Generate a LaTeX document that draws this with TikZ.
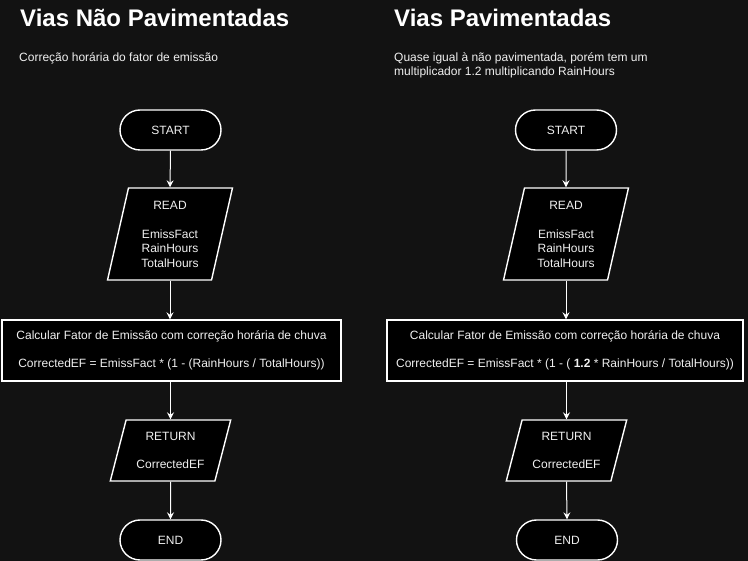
\documentclass[tikz,border=0pt]{standalone}
\usepackage{fontspec}
\setmainfont{Liberation Sans}
\usetikzlibrary{shapes.geometric,arrows.meta}
\definecolor{bg}{HTML}{121212}
\definecolor{txt}{HTML}{F0F0F0}
\begin{document}
\begin{tikzpicture}[x=1pt,y=-1pt,
  base/.style={draw=white, line width=1.4pt, fill=black, text=txt, font=\fontsize{12}{14.5}\selectfont, align=center, inner sep=0pt},
  term/.style={base, rectangle, rounded corners=20pt, minimum width=101pt, minimum height=40pt},
  io/.style={base, trapezium, trapezium stretches=true, trapezium left angle=#1, trapezium right angle=180-#1},
  proc/.style={base, rectangle, minimum height=61pt},
  conn/.style={draw=white, line width=1pt, -{Stealth[length=7pt,width=7pt,inset=2.5pt]}},
  title/.style={text=white, font=\fontsize{24}{28}\selectfont\bfseries, anchor=base west, inner sep=0pt},
  sub/.style={text=txt, font=\fontsize{12}{14}\selectfont, anchor=north west, inner sep=0pt, align=left}
]
\fill[bg] (0,0) rectangle (748,561);
\useasboundingbox (0,0) rectangle (748,561);

% Left column
\node[title] (t1) at (20,27) {Vias Não Pavimentadas};
\node[sub] (s1) at (19,52.5) {Correção horária do fator de emissão};

\node[term] (start1) at (170.5,130) {START};
\node[io=77.7, minimum width=126pt, minimum height=92pt] (read1) at (170,234) {READ\\[14.5pt]EmissFact\\RainHours\\TotalHours};
\node[proc, minimum width=339pt] (calc1) at (171.5,350.5) {Calcular Fator de Emissão com correção horária de chuva\\[14pt]CorrectedEF = EmissFact * (1 - (RainHours / TotalHours))};
\node[io=71.8, minimum width=121pt, minimum height=61pt] (ret1) at (170.5,450.5) {RETURN\\[14pt]CorrectedEF};
\node[term] (end1) at (170.5,540) {END};

\draw[conn] (start1.south) -- (read1.north);
\draw[conn] (read1.south) -- (read1.south |- calc1.north);
\draw[conn] (calc1.south -| ret1.north) -- (ret1.north);
\draw[conn] (ret1.south) -- (end1.north);

% Right column
\node[title] (t2) at (394,27) {Vias Pavimentadas};
\node[sub] (s2) at (394,52.5) {Quase igual à não pavimentada, porém tem um\\multiplicador 1.2 multiplicando RainHours};

\node[term] (start2) at (566,130) {START};
\node[io=77.7, minimum width=126pt, minimum height=92pt] (read2) at (566,234) {READ\\[14.5pt]EmissFact\\RainHours\\TotalHours};
\node[proc, minimum width=356pt] (calc2) at (565,350.5) {Calcular Fator de Emissão com correção horária de chuva\\[14pt]CorrectedEF = EmissFact * (1 - ( \textbf{1.2} * RainHours / TotalHours))};
\node[io=71.8, minimum width=121pt, minimum height=61pt] (ret2) at (566.5,450.5) {RETURN\\[14pt]CorrectedEF};
\node[term] (end2) at (567,540) {END};

\draw[conn] (start2.south) -- (read2.north);
\draw[conn] (read2.south) -- (read2.south |- calc2.north);
\draw[conn] (calc2.south -| ret2.north) -- (ret2.north);
\draw[conn] (ret2.south) -- (end2.north);
\end{tikzpicture}
\end{document}
